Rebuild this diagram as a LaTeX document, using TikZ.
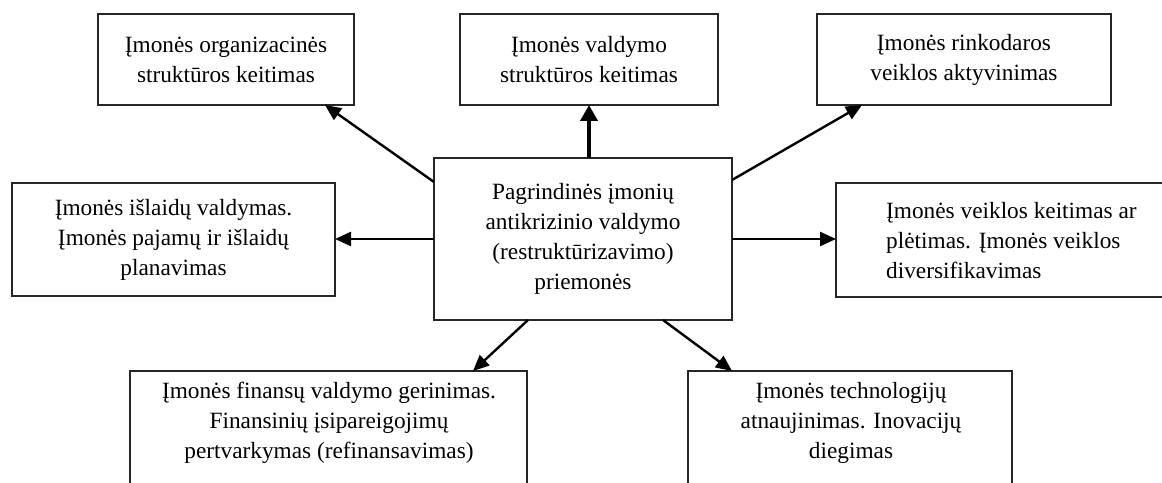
\documentclass[tikz,border=0pt]{standalone}
\usepackage{fontspec}
\setmainfont{Liberation Serif}
\usetikzlibrary{arrows.meta}
\begin{document}
\begin{tikzpicture}[x=1pt,y=1pt,
  box/.style={draw=black!85,line width=1.3pt,inner sep=0pt,outer sep=0pt,fill=white},
  txt/.style={font=\fontsize{23.3}{30}\selectfont,align=center,inner sep=0pt},
  arr/.style={line width=2.4pt,-{Triangle[length=16pt,width=14pt]}},
  thickarr/.style={line width=3.8pt,-{Triangle[length=16pt,width=17pt]}}]
\useasboundingbox (0,0) rectangle (1162,482);
\clip (0,0) rectangle (1162,482);
% boxes
\node[box,minimum width=256pt,minimum height=91pt,txt] (tl) at (226,422.5)
  {Įmonės organizacinės\\struktūros keitimas};
\node[box,minimum width=258pt,minimum height=91pt,txt] (tc) at (589,422.5)
  {Įmonės valdymo\\struktūros keitimas};
\node[box,minimum width=294pt,minimum height=91pt,txt] (tr) at (964,422.5)
  {Įmonės rinkodaros\\veiklos aktyvinimas};
\node[box,minimum width=323pt,minimum height=113pt,txt] (l) at (173.5,242.5)
  {Įmonės išlaidų valdymas.\\Įmonės pajamų ir išlaidų\\planavimas};
\node[box,minimum width=298pt,minimum height=162pt,txt] (c) at (583,243)
  {Pagrindinės įmonių\\antikrizinio valdymo\\(restruktūrizavimo)\\priemonės};
\node[box,minimum width=364pt,minimum height=114pt] (r) at (1018,242) {};
\node[txt,align=left,anchor=west] (rt) at (886,241)
  {Įmonės veiklos keitimas ar\\plėtimas. Įmonės veiklos\\diversifikavimas};
\node[box,minimum width=397pt,minimum height=140pt,anchor=north] (bl) at (328.5,111) {};
\node[txt] (blt) at (329,59)
  {Įmonės finansų valdymo gerinimas.\\Finansinių įsipareigojimų\\pertvarkymas (refinansavimas)};
\node[box,minimum width=324pt,minimum height=140pt,anchor=north] (br) at (850,111) {};
\node[txt] (brt) at (851,59)
  {Įmonės technologijų\\atnaujinimas. Inovacijų\\diegimas};
% connectors
\draw[arr] ([yshift=-24pt]c.north west) -- ([xshift=-29pt]tl.south east);
\draw[thickarr] (tc.south |- c.north) -- (tc.south);
\draw[arr] ([yshift=-22pt]c.north east) -- ([xshift=45pt]tr.south west);
\draw[arr] (c.west) -- (c.west -| l.east);
\draw[arr] (c.east) -- (c.east -| r.west);
\draw[arr] ([xshift=94pt]c.south west) -- ([xshift=-54pt]bl.north east);
\draw[arr] ([xshift=-69pt]c.south east) -- ([xshift=44pt]br.north west);
\end{tikzpicture}
\end{document}
